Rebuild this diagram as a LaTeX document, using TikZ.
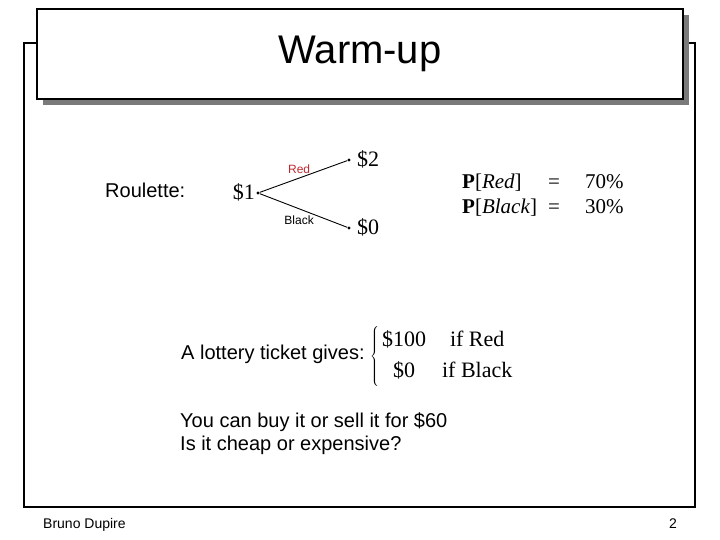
\documentclass[tikz,border=0pt]{standalone}
\usepackage{fontspec}
\setmainfont{Liberation Sans}
\newfontfamily\timesfont{Liberation Serif}
\usepackage{xcolor}
\definecolor{redlabel}{HTML}{C0282E}
\definecolor{shadowgray}{HTML}{7A7A7A}
\usepackage{tikz}
\usetikzlibrary{
  positioning,
  shadows
}

\begin{document}
\begin{tikzpicture}[
  x=1pt, y=-1pt,
  titlebox/.style={rectangle, draw=black, line width=2pt, fill=white, minimum width=646pt, minimum height=90pt, font=\fontsize{40}{48}\selectfont, drop shadow={shadow xshift=6pt, shadow yshift=-6pt, fill=shadowgray, opacity=1}},
  body/.style={font=\fontsize{20}{23}\selectfont, inner sep=0pt},
  money/.style={font=\timesfont\fontsize{22}{26}\selectfont, inner sep=0pt},
  prob/.style={font=\timesfont\fontsize{21}{25}\selectfont, inner sep=0pt},
  branch/.style={font=\fontsize{12}{14}\selectfont, inner sep=1pt},
  dot/.style={circle, fill=black, inner sep=0pt, minimum size=3.4pt},
  footer/.style={font=\fontsize{14}{16}\selectfont, inner sep=0pt},
]
\useasboundingbox (0,0) rectangle (720,540);

% Slide frame and title
\draw[line width=2pt] (24,43) rectangle (695,507);
\node[titlebox] (title) at (360,54) {Warm-up};

% Roulette tree
\node[body, anchor=base west] (roul) at (105,198) {Roulette:};
\node[dot] (n1) at (258,193) {};
\node[dot] (n2) at (349,160) {};
\node[dot] (n0) at (349,228) {};
\node[money, anchor=east] (v1) at (255,192) {\$1};
\node[money, anchor=west] (v2) at (357,159) {\$2};
\node[money, anchor=west] (v0) at (357,227) {\$0};
\draw[line width=0.9pt] (n1) -- node[branch, redlabel, pos=0.45, above=3pt] (lred) {Red} (n2);
\draw[line width=0.9pt] (n1) -- node[branch, pos=0.45, below=6pt] (lblack) {Black} (n0);

% Probabilities
\node[prob, anchor=base west] (pred) at (462,189) {\textbf{P}[\textit{Red}]};
\node[prob, anchor=base west] (pblack) at (462,214) {\textbf{P}[\textit{Black}]};
\node[prob, anchor=base] (eqred) at (554,189) {=};
\node[prob, anchor=base] (eqblack) at (554,214) {=};
\node[prob, anchor=base west] (pcred) at (585,189) {70\%};
\node[prob, anchor=base west] (pcblack) at (585,214) {30\%};

% Lottery ticket
\node[body, anchor=base west] (lottery) at (181,359) {A lottery ticket gives:};
\node[money, anchor=west] (payoff) at (370,356) {%
  \renewcommand{\arraystretch}{1.2}\setlength{\tabcolsep}{8pt}%
  $\left\{\mbox{\begin{tabular}{@{\hspace{3pt}}cc}\timesfont \$100 & \timesfont if Red\\ \timesfont \$0 & \timesfont if Black\end{tabular}}\right.$};

% Question
\node[body, anchor=north west, align=left] (question) at (180,412) {You can buy it or sell it for \$60\\Is it cheap or expensive?};

% Footer
\node[footer, anchor=base west] (author) at (43,528) {Bruno Dupire};
\node[footer, anchor=base] (page) at (673,528) {2};

\end{tikzpicture}
\end{document}
